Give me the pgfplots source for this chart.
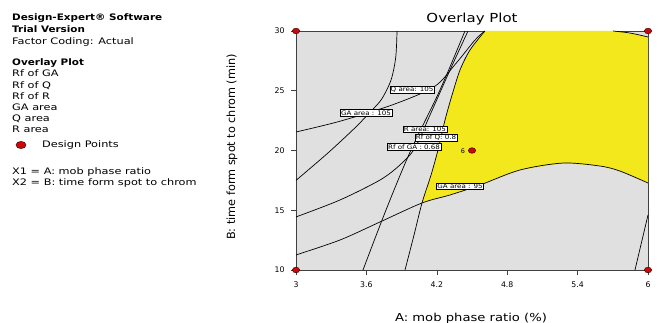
\documentclass[border=0pt]{standalone}
\usepackage{pgfplots}
\pgfplotsset{compat=1.18}
\usepackage{fontspec}
\setmainfont{DejaVu Sans}
\definecolor{bggray}{RGB}{224,224,224}
\definecolor{ylw}{RGB}{242,232,27}
\definecolor{dred}{RGB}{200,10,10}
\newcommand{\wide}[1]{\scalebox{1.15}[1]{#1}}
\newcommand{\wider}[1]{\scalebox{1.26}[1]{#1}}
\newcommand{\widb}[1]{\scalebox{1.16}[1]{#1}}
\begin{document}
\begin{tikzpicture}
\useasboundingbox (0bp,0bp) rectangle (664bp,323bp);
\begin{axis}[
 at={(296bp,53bp)}, anchor=south west,
 width=352bp, height=239bp, scale only axis,
 xmin=3, xmax=6, ymin=10, ymax=30,
 xtick={3,3.6,4.2,4.8,5.4,6}, xticklabels={3,3.6,4.2,4.8,5.4,6},
 ytick={10,15,20,25,30},
 tick align=outside, tick pos=left, major tick length=5bp,
 axis line style={black!75, line width=0.8pt},
 every tick/.style={black!75, line width=0.6pt},
 axis background/.style={fill=bggray},
 ticklabel style={font=\fontsize{7.8}{9}\selectfont},
 xticklabel style={yshift=-3bp},
 yticklabel style={xshift=-3bp},
 /pgf/number format/assume math mode=true,
 clip=false,
]
% yellow feasible region
\addplot[fill=ylw, draw=none] coordinates {
 (4.074,15.61) (4.151,17.95) (4.210,20.04) (4.270,22.55) (4.330,24.64)
 (4.398,26.74) (4.483,28.41) (4.610,30) (5.702,30) (5.847,29.83) (6,29.5)
 (6,17.28) (5.761,18.28) (5.591,18.70) (5.276,18.95) (4.909,18.37)
 (4.568,17.11) (4.313,16.28) (4.074,15.61)} -- cycle;
% contour lines
\addplot[black, line width=0.7pt, smooth] coordinates {
 (3.861,30) (3.850,27.8) (3.810,25.9) (3.730,24.3) (3.640,23.3) (3.503,21.9) (3.273,19.8) (3,17.5)};
\addplot[black, line width=0.7pt, smooth] coordinates {
 (3,21.55) (3.375,22.45) (3.830,23.85) (4.180,25.35) (4.360,27.25) (4.526,29.25) (4.61,30)};
\addplot[black, line width=0.7pt, smooth] coordinates {
 (3,14.44) (3.375,15.86) (3.716,17.53) (3.886,18.79) (4.014,20.21) (4.142,22.97) (4.313,26.74) (4.466,30)};
\addplot[black, line width=0.7pt, smooth] coordinates {
 (3.571,10) (3.767,15.02) (3.972,19.87) (4.227,25.06) (4.440,30)};
\addplot[black, line width=0.7pt, smooth] coordinates {
 (3.929,10) (4.006,12.93) (4.074,15.61) (4.151,17.95) (4.210,20.04) (4.270,22.55) (4.330,24.64) (4.398,26.74) (4.483,28.41) (4.61,30)};
\addplot[black, line width=0.7pt, smooth] coordinates {
 (3,11.26) (3.375,12.51) (3.716,14.02) (4.074,15.61) (4.313,16.28) (4.568,17.11) (4.909,18.37) (5.276,18.95) (5.591,18.70) (5.761,18.28) (6,17.28)};
\addplot[black, line width=0.7pt, smooth] coordinates {
 (5.702,30) (5.847,29.83) (6,29.5)};
\addplot[black, line width=0.7pt] coordinates {
 (5.889,10) (6,14.6)};
% contour labels
\begin{scope}[every node/.style={draw=black, fill=white, inner sep=0.9pt, line width=0.5pt, font=\fontsize{6.2}{7}\selectfont}]
\node at (axis cs:3.989,25.06) {\wide{Q area: 105}};
\node at (axis cs:3.597,23.14) {\wide{GA area : 105}};
\node at (axis cs:4.099,21.80) {\wide{R area: 105}};
\node at (axis cs:4.193,21.05) {\wide{Rf of Q: 0.8}};
\node at (axis cs:4.006,20.29) {\wide{Rf of GA : 0.68}};
\node at (axis cs:4.398,17.03) {\wide{GA area : 95}};
\end{scope}
\node[font=\fontsize{6.5}{7}\selectfont] at (axis cs:4.423,19.96) {6};
% design points
\addplot[only marks, mark=*, mark size=2.8bp, mark options={xscale=1.3, fill=dred, draw=black!70!red, line width=0.5pt}]
 coordinates {(3,10) (3,30) (6,10) (6,30) (4.5,20)};
\end{axis}
% titles and labels
\node[font=\fontsize{12.5}{14}\selectfont] at (472bp,304bp) {\scalebox{1.2}[1]{Overlay Plot}};
\node[font=\fontsize{11}{13}\selectfont] at (471bp,5bp) {\scalebox{1.2}[1]{A: mob phase ratio (\%)}};
\node[font=\fontsize{11.3}{13}\selectfont, rotate=90] at (232bp,176bp) {B: time form spot to chrom (min)};
% left info block
\begin{scope}[every node/.style={anchor=base west, inner sep=0pt, font=\fontsize{9}{10}\selectfont}]
\node at (12bp,302bp) {\widb{\bfseries Design-Expert® Software}};
\node at (12bp,290bp) {\widb{\bfseries Trial Version}};
\node at (12bp,278bp) {\wider{Factor Coding: Actual}};
\node at (12bp,257bp) {\widb{\bfseries Overlay Plot}};
\node at (12bp,246bp) {\wider{Rf of GA}};
\node at (12bp,234bp) {\wider{Rf of Q}};
\node at (12bp,223bp) {\wider{Rf of R}};
\node at (12bp,212bp) {\wider{GA area}};
\node at (12bp,201bp) {\wider{Q area}};
\node at (12bp,190bp) {\wider{R area}};
\node at (42bp,175bp) {\wider{Design Points}};
\node at (12bp,148bp) {\wider{X1 = A: mob phase ratio}};
\node at (12bp,137bp) {\wider{X2 = B: time form spot to chrom}};
\end{scope}
\fill[dred, draw=black!70!red, line width=0.5pt] (21bp,178bp) ellipse (5bp and 3.6bp);
\end{tikzpicture}
\end{document}
